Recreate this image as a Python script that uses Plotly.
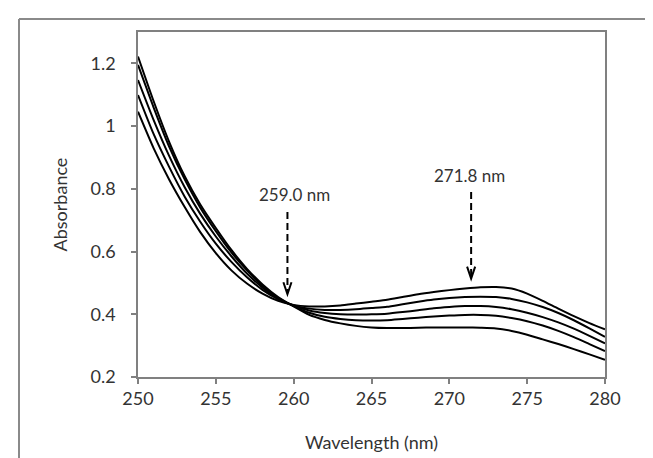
import plotly.graph_objects as go

wavelength = list(range(250, 281))

abs_1 = [1.222, 1.08, 0.95, 0.84, 0.75, 0.675, 0.605, 0.545, 0.495, 0.455, 0.425,
         0.398, 0.382, 0.371, 0.363, 0.358, 0.356, 0.356, 0.357, 0.358, 0.358, 0.358,
         0.357, 0.355, 0.347, 0.335, 0.320, 0.305, 0.289, 0.272, 0.255]
abs_2 = [1.195, 1.06, 0.935, 0.83, 0.74, 0.665, 0.597, 0.54, 0.49, 0.452, 0.426,
         0.405, 0.392, 0.385, 0.381, 0.380, 0.381, 0.385, 0.389, 0.393, 0.396, 0.398,
         0.398, 0.395, 0.388, 0.378, 0.364, 0.347, 0.327, 0.305, 0.283]
abs_3 = [1.147, 1.02, 0.905, 0.805, 0.72, 0.648, 0.585, 0.53, 0.485, 0.45, 0.427,
         0.412, 0.404, 0.400, 0.399, 0.400, 0.402, 0.407, 0.413, 0.419, 0.423, 0.426,
         0.426, 0.423, 0.416, 0.405, 0.391, 0.374, 0.354, 0.331, 0.307]
abs_4 = [1.099, 0.975, 0.87, 0.775, 0.695, 0.625, 0.567, 0.518, 0.478, 0.448, 0.428,
         0.418, 0.414, 0.414, 0.416, 0.420, 0.424, 0.432, 0.440, 0.447, 0.452, 0.455,
         0.456, 0.455, 0.449, 0.438, 0.423, 0.404, 0.381, 0.355, 0.328]
abs_5 = [1.046, 0.93, 0.83, 0.742, 0.662, 0.595, 0.54, 0.498, 0.466, 0.443, 0.43,
         0.425, 0.425, 0.428, 0.434, 0.440, 0.446, 0.455, 0.464, 0.471, 0.477, 0.482,
         0.486, 0.487, 0.482, 0.466, 0.443, 0.418, 0.394, 0.372, 0.352]

series = [abs_1, abs_2, abs_3, abs_4, abs_5]

y_tickvals = [0.2, 0.4, 0.6, 0.8, 1.0, 1.2]
y_ticktext = ["0.2", "0.4", "0.6", "0.8", "1", "1.2"]
x_tickvals = [250, 255, 260, 265, 270, 275, 280]

arrow_labels = ["259.0 nm", "271.8 nm"]
arrow_x = [259.6, 271.4]
arrow_top = [0.726, 0.79]
arrow_tip = [0.464, 0.514]
label_x = [260.05, 271.3]
label_y = [0.783, 0.844]

FONT = "Lato, 'Open Sans', sans-serif"
TXT = "#333333"
AXC = "#808080"
FS = 18

fig = go.Figure()
for s in series:
    fig.add_trace(go.Scatter(x=wavelength, y=s, mode="lines",
                             line=dict(color="black", width=2, shape="spline", smoothing=0.6),
                             showlegend=False, hoverinfo="skip"))

shapes = []
annotations = []
for lab, ax, at, tip, lx, ly in zip(arrow_labels, arrow_x, arrow_top, arrow_tip, label_x, label_y):
    shapes.append(dict(type="line", xref="x", yref="y", x0=ax, x1=ax, y0=at, y1=tip + 0.004,
                       line=dict(color="black", width=2, dash="7px,4px")))
    dx, dy = 0.26, 0.038
    shapes.append(dict(type="path", xref="x", yref="y",
                       path=f"M {ax-dx},{tip+dy} L {ax},{tip} L {ax+dx},{tip+dy}",
                       line=dict(color="black", width=2)))
    annotations.append(dict(x=lx, y=ly, xref="x", yref="y", text=lab, showarrow=False,
                            font=dict(family=FONT, size=17, color=TXT)))

# outer frame (left and top lines)
L, R, T, B = 130, 597, 24, 369
W, H = 653, 458
def px(xp):
    return (xp - L) / (R - L)
def py(yp):
    return (B - yp) / (B - T)
shapes.append(dict(type="line", xref="paper", yref="paper", x0=px(11), x1=px(11),
                   y0=py(11), y1=py(470), line=dict(color="#8a8a8a", width=2)))
shapes.append(dict(type="line", xref="paper", yref="paper", x0=px(11), x1=px(660),
                   y0=py(11), y1=py(11), line=dict(color="#8a8a8a", width=2)))

fig.update_layout(
    width=W, height=H,
    margin=dict(l=L, r=W - R, t=T, b=H - B),
    paper_bgcolor="white", plot_bgcolor="white",
    font=dict(family=FONT, size=FS, color=TXT),
    shapes=shapes, annotations=annotations,
    xaxis=dict(range=[250, 280], tickvals=x_tickvals, ticks="outside", ticklen=5,
               tickcolor=AXC, tickwidth=1.5, showline=True, linecolor=AXC, linewidth=1.5,
               mirror=True, showgrid=False, zeroline=False, ticklabelstandoff=0,
               tickfont=dict(family=FONT, size=FS, color=TXT),
               title=dict(text="Wavelength (nm)", font=dict(family=FONT, size=FS, color=TXT),
                          standoff=28)),
    yaxis=dict(range=[0.2, 1.3], tickvals=y_tickvals, ticktext=y_ticktext, ticks="outside",
               ticklen=5, tickcolor=AXC, tickwidth=1.5, showline=True, linecolor=AXC,
               linewidth=1.5, mirror=True, showgrid=False, zeroline=False,
               ticklabelstandoff=12,
               tickfont=dict(family=FONT, size=FS, color=TXT),
               title=dict(text="Absorbance", font=dict(family=FONT, size=FS, color=TXT),
                          standoff=18)),
)

fig.write_html("out.html")
